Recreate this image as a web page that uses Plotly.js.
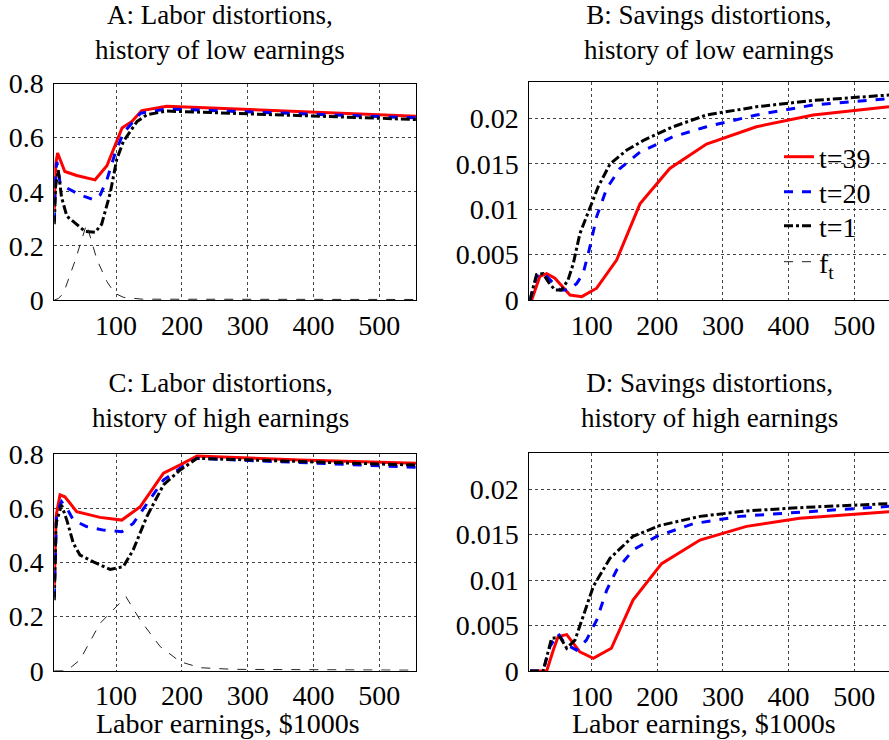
<!DOCTYPE html>
<html>
<head>
<meta charset="utf-8">
<script src="https://cdn.plot.ly/plotly-3.0.1.min.js"></script>
<style>html,body{margin:0;padding:0;background:#fff;overflow:hidden;}</style>
</head>
<body>
<div id="chart" style="width:889px;height:740px;"></div>
<script>
// ---------- Data ----------
const legendNames = ["t=39", "t=20", "t=1", "f<sub>t</sub>"];
const panelTitles = [
  "A: Labor distortions,<br>history of low earnings",
  "B: Savings distortions,<br>history of low earnings",
  "C: Labor distortions,<br>history of high earnings",
  "D: Savings distortions,<br>history of high earnings"
];
const xAxisTitle = "Labor earnings, $1000s";
const xTickVals = [100, 200, 300, 400, 500];
const xTickText = ["100", "200", "300", "400", "500"];
const laborTickVals = [0, 0.2, 0.4, 0.6, 0.8];
const laborTickText = ["0", "0.2", "0.4", "0.6", "0.8"];
const savTickVals = [0, 0.005, 0.01, 0.015, 0.02];
const savTickText = ["0", "0.005", "0.01", "0.015", "0.02"];

// Panel A: labor distortions, low history
const aX39 = [6, 8, 11, 15, 22, 40, 55, 68, 86, 98, 109, 124, 139, 177, 556];
const aY39 = [0.33, 0.50, 0.543, 0.52, 0.475, 0.46, 0.45, 0.444, 0.496, 0.568, 0.636, 0.66, 0.70, 0.716, 0.679];
const aX20 = [6, 8, 10, 15, 25, 45, 66, 76, 86, 98.5, 111, 137, 177, 556];
const aY20 = [0.29, 0.47, 0.51, 0.43, 0.414, 0.389, 0.37, 0.389, 0.444, 0.543, 0.617, 0.69, 0.706, 0.673];
const aX1 = [6, 8, 12, 17, 25, 40, 53, 68, 78, 91, 101, 111, 132, 147, 177, 556];
const aY1 = [0.28, 0.42, 0.48, 0.38, 0.31, 0.28, 0.253, 0.25, 0.28, 0.395, 0.52, 0.586, 0.66, 0.685, 0.698, 0.667];
const aXf = [6, 12, 20, 38, 55, 71, 86, 98, 111, 140, 556];
const aYf = [0, 0.005, 0.025, 0.148, 0.28, 0.148, 0.068, 0.025, 0.01, 0.003, 0.002];

// Panel B: savings distortions, low history
const bX39 = [6, 8.6, 21, 31.5, 44, 57, 67, 85, 107.6, 138, 173.6, 219, 275, 351, 437.6, 553];
const bY39 = [0, 0, 0.0026, 0.0029, 0.0024, 0.0013, 0.00055, 0.00037, 0.0013, 0.0044, 0.0106, 0.0145, 0.0172, 0.0191, 0.0204, 0.0213];
const bX20 = [6, 16, 26, 36.5, 52, 64, 77, 87, 97.5, 107.6, 123, 143, 173.6, 224, 275, 351, 437.6, 553];
const bY20 = [0, 0.0026, 0.003, 0.0022, 0.0011, 0.0011, 0.0018, 0.0029, 0.0059, 0.0092, 0.0123, 0.0145, 0.0163, 0.018, 0.0191, 0.0204, 0.0215, 0.0222];
const bX1 = [6, 16, 26, 34, 44, 54, 64, 72, 82, 97.5, 110, 128, 153, 179, 224, 275, 351, 437.6, 553];
const bY1 = [0, 0.0028, 0.0029, 0.002, 0.0011, 0.0011, 0.0022, 0.004, 0.0073, 0.0103, 0.0125, 0.015, 0.0165, 0.0176, 0.0191, 0.0204, 0.0213, 0.022, 0.0226];

// Panel C: labor distortions, high history
const cX39 = [6, 8.6, 14.7, 22, 30, 40, 75.6, 108.6, 136.5, 172, 197.5, 223, 380, 556];
const cY39 = [0.31, 0.57, 0.649, 0.642, 0.618, 0.587, 0.566, 0.556, 0.605, 0.729, 0.76, 0.793, 0.778, 0.766];
const cX20 = [6, 9.6, 17, 25, 35, 55, 80.7, 108.6, 126, 146.7, 172, 197.5, 223, 556];
const cY20 = [0.27, 0.58, 0.624, 0.6, 0.556, 0.532, 0.519, 0.513, 0.544, 0.618, 0.704, 0.747, 0.784, 0.751];
const cX1 = [6, 8.6, 17, 25, 35, 45, 65.5, 91, 111, 126, 146.7, 172, 197.5, 223, 556];
const cY1 = [0.26, 0.544, 0.612, 0.556, 0.47, 0.427, 0.402, 0.374, 0.384, 0.446, 0.569, 0.686, 0.741, 0.784, 0.759];
const cXf = [6, 25, 45, 75.6, 115, 136.5, 167, 197.5, 228, 279, 556];
const cYf = [0, 0, 0.04, 0.175, 0.273, 0.187, 0.089, 0.033, 0.011, 0.005, 0.002];

// Panel D: savings distortions, high history
const dX39 = [6, 31.5, 41.6, 49, 62, 82, 102.5, 130, 163, 206.6, 265, 336, 417, 553];
const dY39 = [0, 0, 0.0023, 0.0038, 0.004, 0.0021, 0.0014, 0.0025, 0.0078, 0.0118, 0.0144, 0.0159, 0.0168, 0.0175];
const dX20 = [6, 26, 36.5, 49, 59, 77, 92, 107.6, 123, 138, 163, 199, 255, 326, 427, 553];
const dY20 = [0, 0, 0.0027, 0.0041, 0.003, 0.0023, 0.0034, 0.0056, 0.0089, 0.0111, 0.0133, 0.0148, 0.0162, 0.017, 0.0175, 0.0181];
const dX1 = [6, 26, 39, 52, 62, 74.6, 87, 102.5, 128, 163, 204, 265, 336, 427, 553];
const dY1 = [0, 0, 0.0036, 0.0037, 0.0025, 0.0034, 0.006, 0.0093, 0.0124, 0.0148, 0.016, 0.017, 0.0176, 0.018, 0.0184];

// ---------- Styles ----------
const FONT = "'Liberation Serif', 'Times New Roman', Times, serif";
const sRed = {color: "#ff0000", width: 3, dash: "solid"};
const sBlue = {color: "#0000ff", width: 3, dash: "dash"};
const sBlack = {color: "#000000", width: 3, dash: "dashdot"};
const sF = {color: "#222222", width: 1, dash: "dash"};
const legendIds = ["legend", "legend2", "legend3", "legend4"];

function tr(x, y, line, xa, ya, idx, show) {
  return {x: x, y: y, type: "scatter", mode: "lines", line: line,
    xaxis: xa, yaxis: ya, name: legendNames[idx], legend: legendIds[idx],
    showlegend: show, hoverinfo: "skip"};
}

const traces = [
  tr(aX39, aY39, sRed, "x", "y", 0, true),
  tr(aX20, aY20, sBlue, "x", "y", 1, true),
  tr(aX1, aY1, sBlack, "x", "y", 2, true),
  tr(aXf, aYf, sF, "x", "y", 3, true),
  tr(bX39, bY39, sRed, "x2", "y2", 0, false),
  tr(bX20, bY20, sBlue, "x2", "y2", 1, false),
  tr(bX1, bY1, sBlack, "x2", "y2", 2, false),
  tr(cX39, cY39, sRed, "x3", "y3", 0, false),
  tr(cX20, cY20, sBlue, "x3", "y3", 1, false),
  tr(cX1, cY1, sBlack, "x3", "y3", 2, false),
  tr(cXf, cYf, sF, "x3", "y3", 3, false),
  tr(dX39, dY39, sRed, "x4", "y4", 0, false),
  tr(dX20, dY20, sBlue, "x4", "y4", 1, false),
  tr(dX1, dY1, sBlack, "x4", "y4", 2, false)
];

const W = 889, H = 740;
function xax(dom, range, anchor) {
  return {domain: dom, range: range, anchor: anchor, tickvals: xTickVals, ticktext: xTickText,
    showgrid: true, gridcolor: "#444", griddash: "dot", gridwidth: 1, zeroline: false,
    showline: true, linecolor: "#000", linewidth: 1, mirror: true, ticks: "",
    ticklabelstandoff: 0, tickfont: {family: FONT, size: 28, color: "#000"}, fixedrange: true};
}
function yax(dom, range, anchor, vals, texts, mirror) {
  return {domain: dom, range: range, anchor: anchor, tickvals: vals, ticktext: texts,
    showgrid: true, gridcolor: "#444", griddash: "dot", gridwidth: 1, zeroline: false,
    showline: true, linecolor: "#000", linewidth: 1, mirror: mirror, ticks: "",
    ticklabelstandoff: 4, tickfont: {family: FONT, size: 28, color: "#000"}, fixedrange: true};
}
const xL = [54.3 / W, 416 / W];
const xR = [529.3 / W, 1.0];
const yTopA = [1 - 300 / H, 1 - 83.5 / H];
const yTopB = [1 - 300 / H, 1 - 82.3 / H];
const yBotC = [1 - 670.7 / H, 1 - 454 / H];
const yBotD = [1 - 671 / H, 1 - 452.7 / H];

function textAnn(text, xpx, ypx, size) {
  return {text: text, xref: "paper", yref: "paper", x: xpx / W, y: 1 - ypx / H,
    xanchor: "center", yanchor: "middle", showarrow: false, align: "center",
    font: {family: FONT, size: size, color: "#000"}};
}
function legendBox(ypx) {
  return {x: 779 / W, y: 1 - ypx / H, xanchor: "left", yanchor: "middle",
    bgcolor: "rgba(0,0,0,0)", borderwidth: 0,
    font: {family: FONT, size: 28, color: "#000"}};
}

const layout = {
  width: W, height: H,
  margin: {l: 0, r: 0, t: 0, b: 0},
  paper_bgcolor: "#fff", plot_bgcolor: "#fff",
  showlegend: true,
  legend: legendBox(157),
  legend2: legendBox(192),
  legend3: legendBox(226),
  legend4: legendBox(262),
  xaxis: xax(xL, [6, 556], "y"),
  yaxis: yax(yTopA, [0, 0.8], "x", laborTickVals, laborTickText, true),
  xaxis2: xax(xR, [5, 553], "y2"),
  yaxis2: yax(yTopB, [0, 0.024], "x2", savTickVals, savTickText, false),
  xaxis3: xax(xL, [6, 556], "y3"),
  yaxis3: yax(yBotC, [0, 0.8], "x3", laborTickVals, laborTickText, true),
  xaxis4: xax(xR, [5, 553], "y4"),
  yaxis4: yax(yBotD, [0, 0.024], "x4", savTickVals, savTickText, false),
  annotations: [
    textAnn(panelTitles[0], 220, 32, 27),
    textAnn(panelTitles[1], 709, 32, 27),
    textAnn(panelTitles[2], 220, 400, 27),
    textAnn(panelTitles[3], 709, 400, 27),
    textAnn(xAxisTitle, 228, 723, 28),
    textAnn(xAxisTitle, 704, 723, 28)
  ]
};

Plotly.newPlot("chart", traces, layout, {displayModeBar: false, staticPlot: true});
</script>
</body>
</html>
